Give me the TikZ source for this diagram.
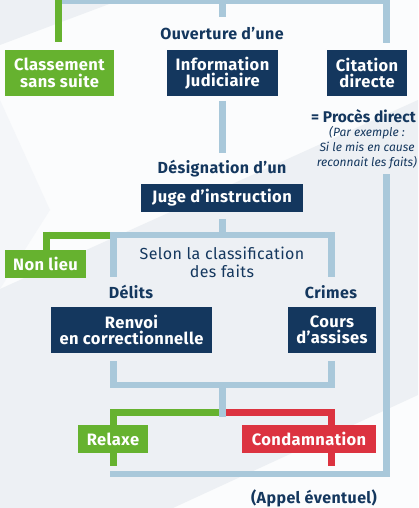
\documentclass[tikz,border=0pt]{standalone}
\usepackage{fontspec}
\setmainfont{Fira Sans}
\newfontfamily\boxfont[LetterSpace=2.5]{Fira Sans}
\newfontfamily\tightfont[LetterSpace=0.5]{Fira Sans}
\definecolor{navy}{HTML}{14375E}
\definecolor{grn}{HTML}{66B22F}
\definecolor{rd}{HTML}{DC3340}
\definecolor{lblue}{HTML}{A9C8DA}
\definecolor{bgw}{HTML}{FBFCFD}
\definecolor{bgg}{HTML}{EDF0F4}
\tikzset{
  box/.style={fill=#1, text=white, font=\boxfont\fontsize{16.5}{16.5}\selectfont\bfseries, align=center, inner sep=0pt, anchor=center},
  lbl/.style={text=navy, font=\boxfont\fontsize{16}{16}\selectfont\bfseries, inner sep=0pt},
  note/.style={text=navy, font=\fontsize{12}{15}\selectfont\itshape, inner sep=0pt, align=center},
  lb/.style={draw=lblue, line width=7pt},
  lbh/.style={draw=lblue, line width=6pt},
  gl/.style={draw=grn, line width=7pt},
  rl/.style={draw=rd, line width=7pt},
}
\begin{document}
\begin{tikzpicture}[x=1pt,y=-1pt]
\fill[bgw] (0,0) rectangle (418,508);
\useasboundingbox (0,0) rectangle (418,508);
\fill[bgg] (0,289) -- (418,100) -- (418,395) -- (173,508) -- (0,508) -- cycle;
\fill[bgg] (0,0) -- (120,0) -- (0,45) -- cycle;
\fill[bgg!50!bgw] (0,100) -- (50,210) -- (0,289) -- cycle;

% boxes
\node[box=grn, minimum width=109pt, minimum height=46pt] (class) at (59.5,73) {Classement\\sans suite};
\node[box=navy, minimum width=111pt, minimum height=46pt] (info) at (222.5,73) {Information\\Judiciaire};
\node[box=navy, minimum width=80pt, minimum height=46pt] (cit) at (367,73) {Citation\\directe};
\node[box=navy, minimum width=162pt, minimum height=28pt] (juge) at (222,198) {Juge d’instruction};
\node[box=grn, minimum width=81pt, minimum height=28pt] (nonlieu) at (45.5,264) {Non lieu};
\node[box=navy, minimum width=161pt, minimum height=46pt] (renvoi) at (131.5,330) {Renvoi\\en correctionnelle};
\node[box=navy, minimum width=88pt, minimum height=46pt] (cours) at (332,330) {Cours\\d’assises};
\node[box=grn, minimum width=70pt, minimum height=28pt] (relaxe) at (113,439) {Relaxe};
\node[box=rd, minimum width=134pt, minimum height=28pt] (cond) at (309,439) {Condamnation};

% labels
\node[lbl] (ouv) at (222,34) {Ouverture d’une};
\node[text=navy, font=\tightfont\fontsize{15.5}{16}\selectfont\bfseries, inner sep=0pt, anchor=east] (proces) at (416,116) {= Procès direct};
\node[note] (ex) at (367,148) {(Par exemple :\\Si le mis en cause\\reconnait les faits)};
\node[lbl] (desig) at (222,169) {Désignation d’un};
\node[text=navy, font=\boxfont\fontsize{16}{18}\selectfont, inner sep=0pt, align=center] (selon) at (222,262) {Selon la classification\\des faits};
\node[lbl] (delits) at (131,292) {Délits};
\node[lbl] (crimes) at (331,292) {Crimes};
\node[lbl] (appel) at (314,498) {(Appel éventuel)};

% coordinates
\coordinate (tl) at (55,1);
\coordinate (tr) at (389.5,1);
\coordinate (tc) at (222.5,1);
\coordinate (bl) at (110,235);
\coordinate (br) at (335,235);
\coordinate (lowl) at (110,385);
\coordinate (lowr) at (335,385);
\coordinate (split) at (222.5,412.5);
\coordinate (appl) at (110,474);
\coordinate (appr) at (389.5,474);

% top connectors
\draw[lbh] (tl) -- (tr);
\draw[gl] (58.5,-2) -- (58.5,42.5);
\draw[lb] (tc) -- (222.5,17);
\draw[lb] (386,-2) -- (386,43);
% info -> juge
\draw[lb] (222.5,101) -- (222.5,153);
\draw[lb] (222.5,219) -- (222.5,235);
% classification bracket
\draw[gl] (110,235) -- (43,235);
\draw[gl] (46.5,231.5) -- (nonlieu.north -| 46.5,0);
\draw[lbh] (bl) -- (br);
\draw[lb] (113.5,232) -- (113.5,277);
\draw[lb] (331.5,232) -- (331.5,277);
\draw[lb] (113.5,361) -- (113.5,385);
\draw[lb] (331.5,361) -- (331.5,385);
\draw[lbh] (lowl) -- (lowr);
% relaxe / condamnation
\draw[gl] (split) -- (110,412.5);
\draw[gl] (113.5,409) -- (relaxe.north -| 113.5,0);
\draw[rl] (split) -- (335,412.5);
\draw[rl] (331.5,409) -- (cond.north -| 331.5,0);
\draw[lb] (222.5,382) -- (222.5,417);
\draw[gl] (relaxe.south -| 113.5,0) -- (113.5,466);
\draw[rl] (cond.south -| 331.5,0) -- (331.5,466);
% appel
\draw[lbh] (appl) -- (appr);
\draw[lb] (386,174) -- (386,477);
\end{tikzpicture}
\end{document}
